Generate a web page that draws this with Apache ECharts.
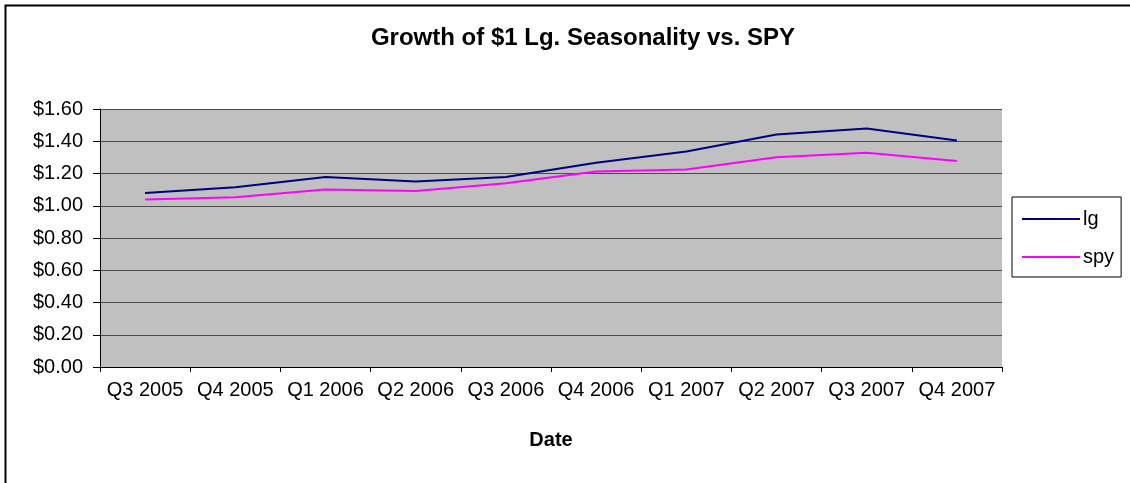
<!DOCTYPE html>
<html>
<head>
<meta charset="utf-8">
<script src="https://cdn.jsdelivr.net/npm/echarts@6/dist/echarts.min.js"></script>
<style>
  html, body { margin: 0; padding: 0; background: #fff; }
  #chart { width: 1130px; height: 483px; }
</style>
</head>
<body>
<div id="chart"></div>
<script>
const quarters = ['Q3 2005', 'Q4 2005', 'Q1 2006', 'Q2 2006', 'Q3 2006',
                  'Q4 2006', 'Q1 2007', 'Q2 2007', 'Q3 2007', 'Q4 2007'];
const lgValues = [1.079, 1.114, 1.178, 1.151, 1.178, 1.267, 1.336, 1.442, 1.479, 1.404];
const spyValues = [1.039, 1.052, 1.101, 1.091, 1.139, 1.213, 1.225, 1.301, 1.328, 1.277];
const yTicks = { min: 0, max: 1.6, step: 0.2 };

const font = 'Liberation Sans, Arial, sans-serif';

const option = {
  animation: false,
  backgroundColor: '#fff',
  graphic: [
    {
      // outer chart frame (runs off the right/bottom edge in the original)
      type: 'rect',
      shape: { x: 5.5, y: 5.5, width: 2000, height: 2000 },
      style: { fill: 'none', stroke: '#000', lineWidth: 2 },
      z: 100
    }
  ],
  title: {
    text: 'Growth of $1 Lg. Seasonality vs. SPY',
    left: 578,
    textAlign: 'center',
    top: 21,
    textStyle: { fontFamily: font, fontSize: 24, fontWeight: 'bold', color: '#000' }
  },
  legend: {
    orient: 'vertical',
    left: 1012,
    top: 197,
    icon: 'rect',
    itemWidth: 58,
    itemHeight: 2,
    itemGap: 18,
    padding: [12, 7, 10, 10],
    borderColor: '#000',
    borderWidth: 1,
    textStyle: { fontFamily: font, fontSize: 20, color: '#000', padding: [0, 0, 0, -2] },
    data: ['lg', 'spy']
  },
  grid: {
    left: 100,
    right: 128,
    top: 109,
    bottom: 116,
    show: true,
    backgroundColor: '#C0C0C0',
    borderWidth: 0
  },
  xAxis: {
    type: 'category',
    data: quarters,
    boundaryGap: true,
    name: 'Date',
    nameLocation: 'middle',
    nameGap: 63,
    nameTextStyle: { fontFamily: font, fontSize: 20, fontWeight: 'bold', color: '#000' },
    axisLine: { lineStyle: { color: '#000', width: 1 } },
    axisTick: { show: true, length: 5, lineStyle: { color: '#000' } },
    axisLabel: { interval: 0, margin: 13, fontFamily: font, fontSize: 20, color: '#000' },
    splitLine: { show: false }
  },
  yAxis: {
    type: 'value',
    min: yTicks.min,
    max: yTicks.max,
    interval: yTicks.step,
    axisLine: { show: true, lineStyle: { color: '#000', width: 1 } },
    axisTick: { show: true, length: 7, lineStyle: { color: '#000' } },
    axisLabel: {
      margin: 17,
      fontFamily: font,
      fontSize: 20,
      color: '#000',
      formatter: function (v) { return '$' + v.toFixed(2); }
    },
    splitLine: { show: true, lineStyle: { color: '#4a4a4a', width: 1 } }
  },
  series: [
    {
      name: 'lg',
      type: 'line',
      data: lgValues,
      showSymbol: false,
      color: '#000080',
      lineStyle: { color: '#000080', width: 2 }
    },
    {
      name: 'spy',
      type: 'line',
      data: spyValues,
      showSymbol: false,
      color: '#FF00FF',
      lineStyle: { color: '#FF00FF', width: 2 }
    }
  ]
};

const myChart = echarts.init(document.getElementById('chart'));
myChart.setOption(option);
</script>
</body>
</html>
